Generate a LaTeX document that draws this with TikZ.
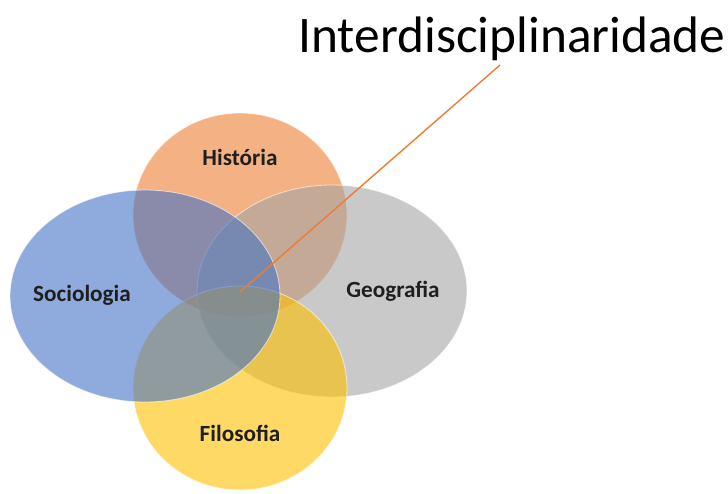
\documentclass[tikz,border=0pt]{standalone}
\usepackage{fontspec}
\setmainfont{Carlito}
\usetikzlibrary{positioning}

\begin{document}
\begin{tikzpicture}[
    x=0.025cm,y=-0.025cm,
    set/.style={fill opacity=.6,draw=white,draw opacity=.6,line width=.6pt},
    subject/.style={font=\fontsize{16.5}{18}\selectfont\bfseries,text=black!88},
    link/.style={draw=hist,line width=1pt}
  ]
  \definecolor{hist}{RGB}{237,125,49}
  \definecolor{geo}{RGB}{165,165,165}
  \definecolor{filo}{RGB}{255,192,0}
  \definecolor{soc}{RGB}{68,114,196}
  \useasboundingbox (0,0) rectangle (728,493);
  \coordinate (H) at (240,215);
  \coordinate (G) at (332,291);
  \coordinate (F) at (240,388);
  \coordinate (S) at (145,296);
  % conjuntos, na ordem de sobreposicao
  \foreach \c/\col/\rx/\ry in {H/hist/107/102,G/geo/135/106,F/filo/107/102,S/soc/135/106}
    \filldraw[set,fill=\col] (\c) ellipse [x radius=\rx, y radius=\ry];
  \node[subject] (hist label) at (240,157) {História};
  \node[subject] (soc label) at (82,295) {Sociologia};
  \node[subject] (geo label) at (393,291) {Geografia};
  \node[subject] (filo label) at (240,433) {Filosofia};
  % titulo e ligacao ao centro
  \node[font=\fontsize{36.5}{40}\selectfont,anchor=base] (title) at (512,52) {Interdisciplinaridade};
  \coordinate (meio) at (240,292);
  \coordinate (ponta) at (500,65);
  \draw[link] (meio) -- (ponta);
\end{tikzpicture}
\end{document}
